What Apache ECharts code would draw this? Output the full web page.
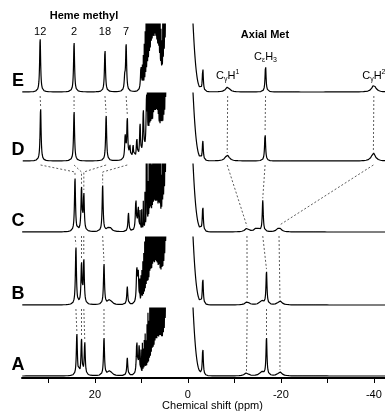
<!DOCTYPE html>
<html><head><meta charset="utf-8">
<script src="https://cdn.jsdelivr.net/npm/echarts@6/dist/echarts.min.js"></script>
<style>html,body{margin:0;padding:0;background:#fff}#c{width:385px;height:414px}</style>
</head><body><div id="c"></div>
<script>
// ---- data (ppm, intensity) ----
const spectrumNames = ['E', 'D', 'C', 'B', 'A'];
const xMin = -42.4, xMax = 35.7;
const tickValues = [30, 20, 10, 0, -10, -20, -30, -40];
const labelValues = [20, 0, -20, -40];
const hemeLabels = [['12', 31.8], ['2', 24.5], ['18', 17.85], ['7', 13.3]];

// line half-widths (ppm)
const widthSharp = 0.13, widthBroad = 0.5, widthCluster = 0.025;

// solvent / aliphatic band common to all traces: [ppm, height, sigma]
const solventBand = [[3.0, 300, 0.9], [1.6, 300, 0.9], [0.2, 150, 1.0]];

const E_sharp = [[31.8, 54], [24.5, 50], [17.85, 43], [13.3, 47], [13.6, 12], [10.1, 25], [-3.2, 24], [-16.7, 27]];
const E_broad = [[-8.55, 5], [-40.0, 7]];
const E_cluster = [[9.8, 20], [9.6, 30], [9.4, 40], [9.2, 50], [9.0, 75], [8.8, 110], [8.6, 90], [8.4, 130], [8.2, 100], [8.0, 140], [7.8, 120], [7.6, 150], [7.4, 110], [7.2, 140], [7.0, 130], [6.8, 150], [6.6, 100], [6.4, 140], [6.2, 120], [6.0, 90], [5.8, 40], [5.6, 30], [5.4, 90], [5.2, 130], [5.0, 120], [4.8, 140], [4.6, 120]];
const E_floor = [[7.2, 38, 1.1]];

const D_sharp = [[31.7, 53], [24.5, 50], [17.6, 46], [13.05, 42], [13.5, 23], [12.5, 14], [11.8, 14], [11.0, 21], [10.3, 34], [9.6, 45], [8.9, 54], [-3.2, 20], [-16.6, 28]];
const D_broad = [[-8.45, 6], [-39.9, 8]];
const D_cluster = [[8.7, 70], [8.5, 95], [8.3, 120], [8.1, 100], [7.9, 130], [7.7, 50], [7.5, 120], [7.3, 140], [7.1, 110], [6.9, 150], [6.7, 120], [6.5, 140], [6.3, 110], [6.1, 60], [5.9, 120], [5.7, 140], [5.5, 110], [5.3, 150], [5.1, 120], [4.9, 130], [4.7, 110], [4.5, 120]];
const D_floor = [[7.0, 32, 1.2]];

const C_sharp = [[24.3, 54], [22.9, 43], [22.4, 37], [18.35, 46], [12.8, 19], [11.2, 32], [10.7, 25], [-3.2, 26], [-16.1, 31]];
const C_broad = [[16.9, 5], [-12.7, 3.5], [-14.8, 4], [-19.6, 4.5]];
const C_cluster = [[10.3, 18], [9.95, 20], [9.6, 28], [9.25, 35], [8.95, 130], [8.8, 100], [8.55, 40], [8.35, 80], [8.15, 120], [7.95, 100], [7.75, 50], [7.55, 130], [7.35, 110], [7.15, 140], [6.95, 100], [6.75, 130], [6.55, 120], [6.35, 90], [6.15, 140], [5.95, 110], [5.75, 40], [5.55, 110], [5.35, 140], [5.15, 120], [4.95, 130], [4.75, 140], [4.55, 120]];
const C_floor = [[7.0, 14, 1.3]];

const B_sharp = [[24.1, 58], [22.9, 40], [22.4, 44], [18.06, 41], [13.05, 18], [11.0, 34], [10.7, 30], [-3.2, 27], [-16.9, 33]];
const B_broad = [[16.8, 5], [-12.75, 3], [-15.85, 4], [-19.8, 4]];
const B_cluster = [[10.35, 20], [10.1, 25], [9.9, 30], [9.7, 38], [9.5, 45], [9.3, 55], [9.1, 70], [8.9, 90], [8.7, 120], [8.5, 60], [8.3, 130], [8.1, 140], [7.9, 100], [7.7, 130], [7.5, 150], [7.3, 120], [7.1, 140], [6.9, 130], [6.7, 150], [6.5, 110], [6.3, 140], [6.1, 130], [5.9, 100], [5.7, 140], [5.5, 120], [5.3, 150], [5.1, 130], [4.9, 140], [4.7, 120]];
const B_floor = [[7.0, 24, 1.3]];

const A_sharp = [[23.9, 42], [22.9, 36], [22.2, 33], [18.06, 38], [13.05, 18], [11.0, 34], [10.5, 28], [-3.2, 28], [-16.9, 38]];
const A_broad = [[16.8, 5], [-12.6, 3], [-15.85, 4], [-19.8, 4]];
const A_cluster = [[10.1, 22], [9.8, 30], [9.6, 24], [9.4, 32], [9.2, 38], [9.0, 30], [8.8, 45], [8.6, 55], [8.4, 45], [8.2, 75], [8.0, 60], [7.8, 90], [7.6, 100], [7.4, 80], [7.2, 120], [7.0, 130], [6.8, 110], [6.6, 140], [6.4, 120], [6.2, 150], [6.0, 130], [5.8, 140], [5.6, 120], [5.4, 140], [5.2, 110], [5.0, 130], [4.8, 100], [4.6, 120]];
const A_floor = [[6.5, 20, 1.3]];

// dashed correlation lines between neighbouring traces: [ppm in upper, ppm in lower, bent]
const links_ED = [[31.8, 31.7, 0], [24.5, 24.5, 0], [17.85, 17.6, 0], [13.3, 13.05, 0], [-8.55, -8.45, 0], [-16.7, -16.6, 0], [-40.0, -39.9, 0]];
const links_DC = [[31.7, 24.3, 1], [24.5, 22.9, 1], [17.6, 22.4, 1], [13.05, 18.35, 1], [-8.45, -12.7, 0], [-16.6, -16.1, 0], [-39.9, -19.6, 0]];
const links_CB = [[24.3, 24.1, 0], [22.9, 22.9, 0], [22.4, 22.4, 0], [18.35, 18.06, 0], [-12.7, -12.75, 0], [-16.1, -16.9, 0], [-19.6, -19.8, 0]];
const links_BA = [[24.1, 23.9, 0], [22.9, 22.9, 0], [22.4, 22.2, 0], [18.06, 18.06, 0], [-12.75, -12.6, 0], [-16.9, -16.9, 0], [-19.8, -19.8, 0]];

// ---- build ----
const spectra = [
  {sharp: E_sharp, broad: E_broad, cluster: E_cluster, floor: E_floor},
  {sharp: D_sharp, broad: D_broad, cluster: D_cluster, floor: D_floor},
  {sharp: C_sharp, broad: C_broad, cluster: C_cluster, floor: C_floor},
  {sharp: B_sharp, broad: B_broad, cluster: B_cluster, floor: B_floor},
  {sharp: A_sharp, broad: A_broad, cluster: A_cluster, floor: A_floor}
];
const allLinks = [links_ED, links_DC, links_CB, links_BA];

function lor(x, p, h, g) { const d = x - p; return h * g * g / (d * d + g * g); }
function gau(x, c, h, s) { const d = x - c; return h * Math.exp(-d * d / (2 * s * s)); }
function intensity(sp, x) {
  let v = 0;
  sp.sharp.forEach(([p, h]) => { v += lor(x, p, h, widthSharp); });
  sp.broad.forEach(([p, h]) => { v += lor(x, p, h, widthBroad); });
  sp.cluster.forEach(([p, h]) => { v += lor(x, p, h, widthCluster); });
  sp.floor.forEach(([c, h, s]) => { v += gau(x, c, h, s); });
  solventBand.forEach(([c, h, s]) => { v += gau(x, c, h, s); });
  return v;
}
function traceData(sp) {
  const xs = [];
  for (let i = 0; ; i++) { const x = xMin + i * 0.02; if (x > xMax) break; xs.push(x); }
  sp.sharp.concat(sp.broad, sp.cluster).forEach(([p]) => xs.push(p));
  xs.sort((a, b) => a - b);
  return xs.map(x => [x, intensity(sp, x)]);
}

const FONT = 'Liberation Sans, Arial, sans-serif';
const baselines = [92, 161, 232, 305, 376];
const clipH = 68;
const grids = [], xAxes = [], yAxes = [], series = [];
spectra.forEach((sp, i) => {
  grids.push({left: 22, right: 0, top: baselines[i] - clipH, height: clipH + 2});
  const last = i === spectra.length - 1;
  xAxes.push({
    gridIndex: i, type: 'value', min: xMin, max: xMax, inverse: true, show: last,
    axisLine: {show: last, onZero: false, lineStyle: {color: '#000', width: 2}},
    axisTick: {show: last, length: 5, customValues: tickValues, lineStyle: {color: '#000', width: 1}},
    axisLabel: {show: last, customValues: labelValues, color: '#000', fontSize: 11, fontFamily: FONT, margin: 11},
    splitLine: {show: false},
    name: last ? 'Chemical shift (ppm)' : '', nameLocation: 'middle', nameGap: 22,
    nameTextStyle: {color: '#000', fontSize: 11, fontFamily: FONT, padding: [0, 0, 0, 18]}
  });
  yAxes.push({gridIndex: i, type: 'value', min: -2, max: clipH, show: false});
  series.push({
    name: spectrumNames[i], type: 'line', xAxisIndex: i, yAxisIndex: i, data: traceData(sp),
    showSymbol: false, symbol: 'none', clip: true, silent: true,
    lineStyle: {color: '#000', width: 1.2}
  });
});

const graphics = [];
spectrumNames.forEach((n, i) => {
  graphics.push({type: 'text', x: 18, y: baselines[i] - 11, style: {text: n, font: 'bold 18px ' + FONT, fill: '#000', align: 'center', verticalAlign: 'middle'}});
});
graphics.push({type: 'text', x: 84, y: 16, style: {text: 'Heme methyl', font: 'bold 11px ' + FONT, fill: '#000', align: 'center', verticalAlign: 'middle'}});
graphics.push({type: 'text', x: 265, y: 35, style: {text: 'Axial Met', font: 'bold 11px ' + FONT, fill: '#000', align: 'center', verticalAlign: 'middle'}});

const chart = echarts.init(document.getElementById('c'), null, {renderer: 'canvas'});
chart.setOption({animation: false, grid: grids, xAxis: xAxes, yAxis: yAxes, series: series, graphic: graphics});

// labels tied to data positions
const rich = {
  m: {fontSize: 11, fontFamily: FONT, color: '#000', lineHeight: 14},
  s: {fontSize: 7, fontFamily: FONT, color: '#000', lineHeight: 7, verticalAlign: 'bottom'},
  p: {fontSize: 7, fontFamily: FONT, color: '#000', lineHeight: 7, verticalAlign: 'top'}
};
const extra = [];
hemeLabels.forEach(([t, p]) => {
  const pt = chart.convertToPixel({gridIndex: 0}, [p, 0]);
  extra.push({type: 'text', x: pt[0], y: 32, style: {text: t, font: '11px ' + FONT, fill: '#000', align: 'center', verticalAlign: 'middle'}});
});
const metLabels = [['{m|C}{s|γ}{m|H}{p|1}', E_broad[0][0], 76], ['{m|C}{s|ε}{m|H}{s|3}', E_sharp[7][0], 57], ['{m|C}{s|γ}{m|H}{p|2}', E_broad[1][0], 76]];
metLabels.forEach(([t, p, y]) => {
  const pt = chart.convertToPixel({gridIndex: 0}, [p, 0]);
  extra.push({type: 'text', x: pt[0], y: y, style: {text: t, rich: rich, align: 'center', verticalAlign: 'middle'}});
});
allLinks.forEach((links, i) => {
  links.forEach(([p1, p2, bent]) => {
    const top = Math.min(intensity(spectra[i + 1], p2), clipH);
    const a = chart.convertToPixel({gridIndex: i}, [p1, -4]);
    const pts = [a];
    if (bent) pts.push(chart.convertToPixel({gridIndex: i + 1}, [p2, 60]));
    pts.push(chart.convertToPixel({gridIndex: i + 1}, [p2, top + 2]));
    extra.push({type: 'polyline', shape: {points: pts}, style: {stroke: '#333', lineWidth: 0.8, lineDash: [2, 2], fill: null}, silent: true});
  });
});
chart.setOption({graphic: graphics.concat(extra)});
</script></body></html>
